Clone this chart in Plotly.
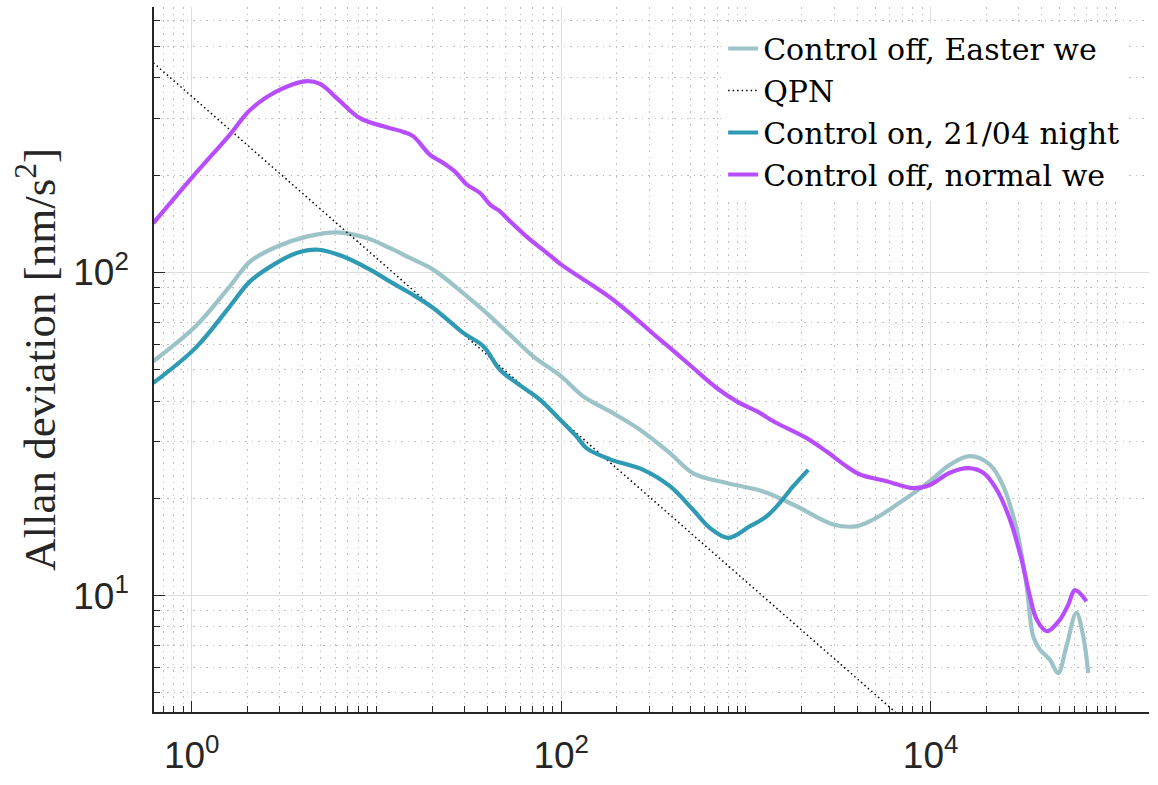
import numpy as np
import plotly.graph_objects as go

# ---- data ----
tau_easter = [0.62, 1.05, 1.61, 2.07, 2.88, 4.19, 6.1, 8.85, 11.8, 15.2, 20.3, 29.5, 39.5,
              52.8, 70.6, 100, 132, 191, 267, 388, 519, 787, 1241, 1882, 2972, 3976, 4890,
              6820, 9910, 12700, 16300, 20940, 24720, 29230, 33100, 35900, 39000, 44200,
              49000, 54300, 61500, 67000, 71300]
adev_easter = [53.1, 68.1, 90.6, 108, 120, 129, 133, 127.7, 119, 110.8, 102, 86.3, 74.8,
               64.1, 55.0, 47.7, 41.3, 36.7, 32.6, 27.6, 23.9, 22.3, 21.0, 18.9, 16.6, 16.4, 17.2,
               19.4, 22.6, 25.4, 27.0, 25.4, 21.8, 16.0, 10.7, 7.48, 6.81, 6.34,
               5.76, 6.96, 8.85, 7.48, 5.76]

tau_qpn = [0.62, 10000]
adev_qpn = [445, 3.5]

tau_on = [0.62, 1.05, 1.61, 2.07, 2.88, 3.7, 4.84, 6.62, 9.23, 11.8, 15.2, 20.3, 29.5, 37.9,
          46.6, 57.4, 76.7, 94.6, 121, 137, 184, 278, 388, 519, 638, 803, 1052, 1296, 1529,
          1804, 2174]
adev_on = [45.5, 58.4, 78.5, 93.8, 107, 114.8, 117.5, 112, 102, 93.8, 86.3, 77.6, 65.0, 59.1,
           50.0, 45.5, 40.4, 35.9, 31.1, 28.6, 26.4, 24.5, 21.8, 18.4, 16.2, 15.1, 16.4, 17.6, 19.4,
           21.8, 24.5]

tau_norm = [0.62, 1.0, 1.61, 2.07, 2.88, 4.1, 4.95, 6.1, 8.15, 10.9, 13.97, 15.8, 19.5, 23,
            26.6, 30.8, 36.4, 41.2, 46.6, 52.8, 65, 83.5, 100, 137, 191, 245, 343, 388, 519,
            695, 891, 1143, 1466, 2131, 2735, 3509, 4143, 5780, 8054, 9910, 12700, 16000,
            19270, 22760, 26870, 31100, 34460, 37500, 42500, 50100, 55600, 60400, 69800]
adev_norm = [142, 196, 267, 318, 363, 390, 383, 346, 300, 283, 272, 264, 231, 218,
             205, 187, 176, 162, 154.5, 144, 129, 115, 105.7, 93.8, 82.3, 73.2, 61.9, 58.4, 50.6,
             43.9, 39.9, 37.2, 34.2, 30.7, 27.9, 25.1, 23.7, 22.6, 21.5, 22.0, 24.0, 24.8,
             24.0, 21.3, 17.2, 12.9, 9.95, 8.43, 7.76, 8.43, 9.38, 10.4, 9.6]

names = ["Control off, Easter we", "QPN", "Control on, 21/04 night", "Control off, normal we"]
colors = ["#9CC3C8", "#000000", "#2E9AB4", "#B84CFF"]

x_major = [1, 100, 10000]
x_major_text = ["10<sup>0</sup>", "10<sup>2</sup>", "10<sup>4</sup>"]
y_major = [10, 100]
y_major_text = ["10<sup>1</sup>", "10<sup>2</sup>"]

x_minor = [m * 10.0 ** k for k in range(-1, 5) for m in range(2, 10)] + [10, 1000, 100000]
y_minor = [m * 10.0 ** k for k in range(0, 3) for m in range(2, 10)]

fig = go.Figure()
fig.add_trace(go.Scatter(x=tau_easter, y=adev_easter, mode="lines", name=names[0],
                         line=dict(color=colors[0], width=4.2, shape="spline", smoothing=1.0)))
fig.add_trace(go.Scatter(x=tau_qpn, y=adev_qpn, mode="lines", name=names[1],
                         line=dict(color=colors[1], width=1.5, dash="1.5px,3px")))
fig.add_trace(go.Scatter(x=tau_on, y=adev_on, mode="lines", name=names[2],
                         line=dict(color=colors[2], width=4.2, shape="spline", smoothing=1.0)))
fig.add_trace(go.Scatter(x=tau_norm, y=adev_norm, mode="lines", name=names[3],
                         line=dict(color=colors[3], width=4.2, shape="spline", smoothing=1.0)))

axis_color = "#262626"
tick_font = dict(family="Liberation Sans, Arial, sans-serif", size=37, color=axis_color)

fig.update_layout(
    width=1158, height=785,
    margin=dict(l=154, r=9, t=7, b=73),
    paper_bgcolor="white", plot_bgcolor="white",
    showlegend=True,
    legend=dict(x=0.572, y=0.978, xanchor="left", yanchor="top",
                bgcolor="white", borderwidth=0,
                font=dict(family="DejaVu Serif, Liberation Serif, serif", size=30, color="#000000"),
                itemwidth=30, tracegroupgap=0),
    xaxis=dict(type="log", range=[-0.204, 5.182],
               tickmode="array", tickvals=x_major, ticktext=x_major_text,
               ticks="inside", ticklen=11, tickwidth=1.3, tickcolor=axis_color,
               tickfont=tick_font, ticklabelstandoff=10,
               showline=True, linecolor=axis_color, linewidth=1.5, mirror=False,
               showgrid=True, gridcolor="#dddddd", gridwidth=1.2, zeroline=False,
               minor=dict(tickmode="array", tickvals=x_minor, ticks="inside", ticklen=6,
                          tickwidth=1.3, tickcolor=axis_color, showgrid=True,
                          gridcolor="#bdbdbd", gridwidth=1, griddash="1.5px,5px")),
    yaxis=dict(type="log", range=[0.640, 2.821],
               tickmode="array", tickvals=y_major, ticktext=y_major_text,
               ticks="inside", ticklen=11, tickwidth=1.3, tickcolor=axis_color,
               tickfont=tick_font, ticklabelstandoff=16,
               showline=True, linecolor=axis_color, linewidth=1.5, mirror=False,
               showgrid=True, gridcolor="#dddddd", gridwidth=1.2, zeroline=False,
               title=dict(text="Allan deviation [nm/s<sup>2</sup>]",
                          font=dict(family="Liberation Serif, Times New Roman, serif", size=45,
                                    color=axis_color),
                          standoff=4),
               minor=dict(tickmode="array", tickvals=y_minor, ticks="inside", ticklen=6,
                          tickwidth=1.3, tickcolor=axis_color, showgrid=True,
                          gridcolor="#bdbdbd", gridwidth=1, griddash="1.5px,5px")),
)

fig.write_html("out.html")
